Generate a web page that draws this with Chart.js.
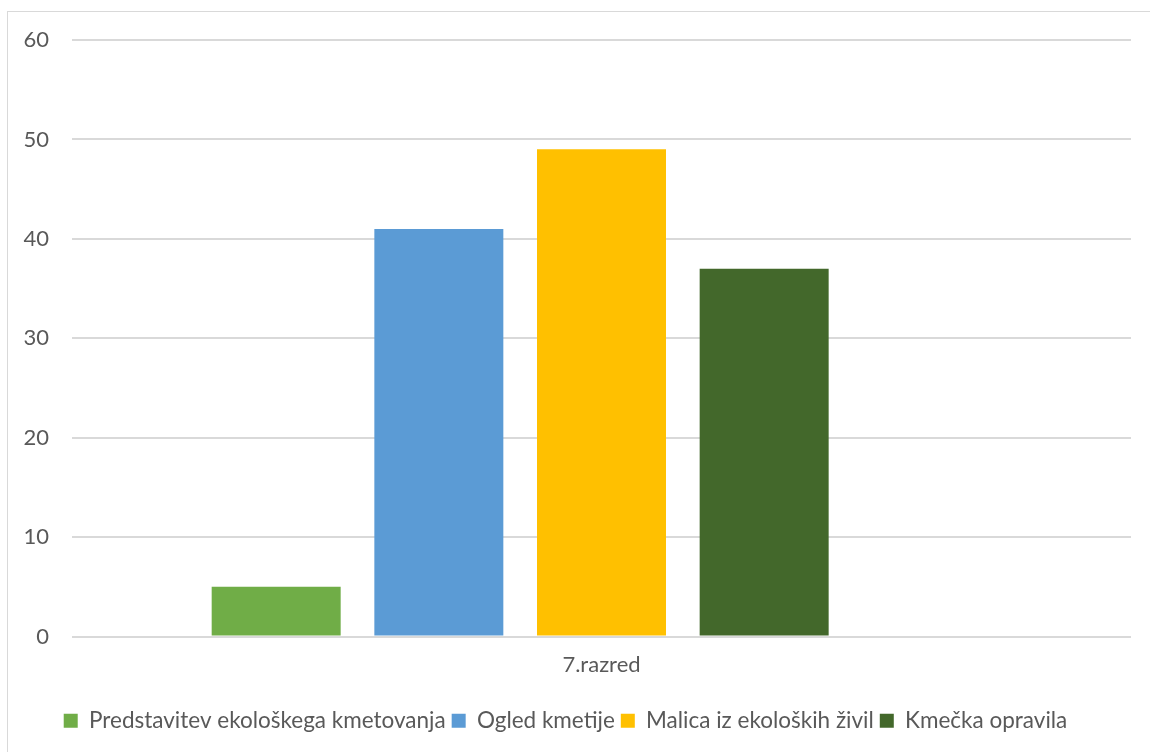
<!DOCTYPE html>
<html><head><meta charset="utf-8">
<script src="https://cdn.jsdelivr.net/npm/chart.js@4"></script>
<style>html,body{margin:0;padding:0;background:#fff;}#wrap{width:1150px;height:752px;position:relative;}</style>
</head><body><div id="wrap"><canvas id="c" width="1150" height="752"></canvas></div>
<script>
const categories = ["7.razred"];
const seriesNames = ["Predstavitev ekološkega kmetovanja", "Ogled kmetije", "Malica iz ekoloških živil", "Kmečka opravila", ""];
const seriesValues = [[5], [41], [49], [37], [null]];
const seriesColors = ["#70AD47", "#5B9BD5", "#FFC000", "#43682B", "rgba(0,0,0,0)"];
const yTicks = [0, 10, 20, 30, 40, 50, 60];

const FONT = "Lato, 'Liberation Sans', sans-serif";
const borderPlugin = {
  id: 'outerBorder',
  beforeDraw(chart) {
    const ctx = chart.ctx;
    ctx.save();
    ctx.strokeStyle = '#d9d9d9';
    ctx.lineWidth = 1;
    ctx.strokeRect(7.5, 11.5, 1300, 900);
    ctx.restore();
  }
};

new Chart(document.getElementById('c'), {
  type: 'bar',
  data: {
    labels: categories,
    datasets: seriesNames.map((n, i) => ({
      label: n, data: seriesValues[i], backgroundColor: seriesColors[i],
      categoryPercentage: 0.768, barPercentage: 0.793
    }))
  },
  options: {
    responsive: false, animation: false,
    layout: { padding: { top: 40, right: 19, bottom: 10, left: 0 } },
    plugins: {
      tooltip: { enabled: false },
      legend: {
        position: 'bottom',
        labels: {
          filter: (item) => item.text !== '',
          boxWidth: 14, boxHeight: 14, padding: 6,
          color: '#595959', font: { family: FONT, size: 22.5 }
        }
      }
    },
    scales: {
      x: {
        grid: { display: false }, border: { display: false },
        ticks: { color: '#595959', font: { family: FONT, size: 22 }, padding: 7 },
        afterFit(s) { s.height = 67; }
      },
      y: {
        min: 0, max: 60,
        afterBuildTicks(s) { s.ticks = yTicks.map(v => ({ value: v })); },
        grid: { color: '#d9d9d9', lineWidth: 2, drawTicks: false },
        border: { display: false },
        ticks: { color: '#595959', font: { family: FONT, size: 22 }, padding: 23 },
        afterFit(s) { s.width = 72; }
      }
    }
  },
  plugins: [borderPlugin]
});
</script></body></html>
